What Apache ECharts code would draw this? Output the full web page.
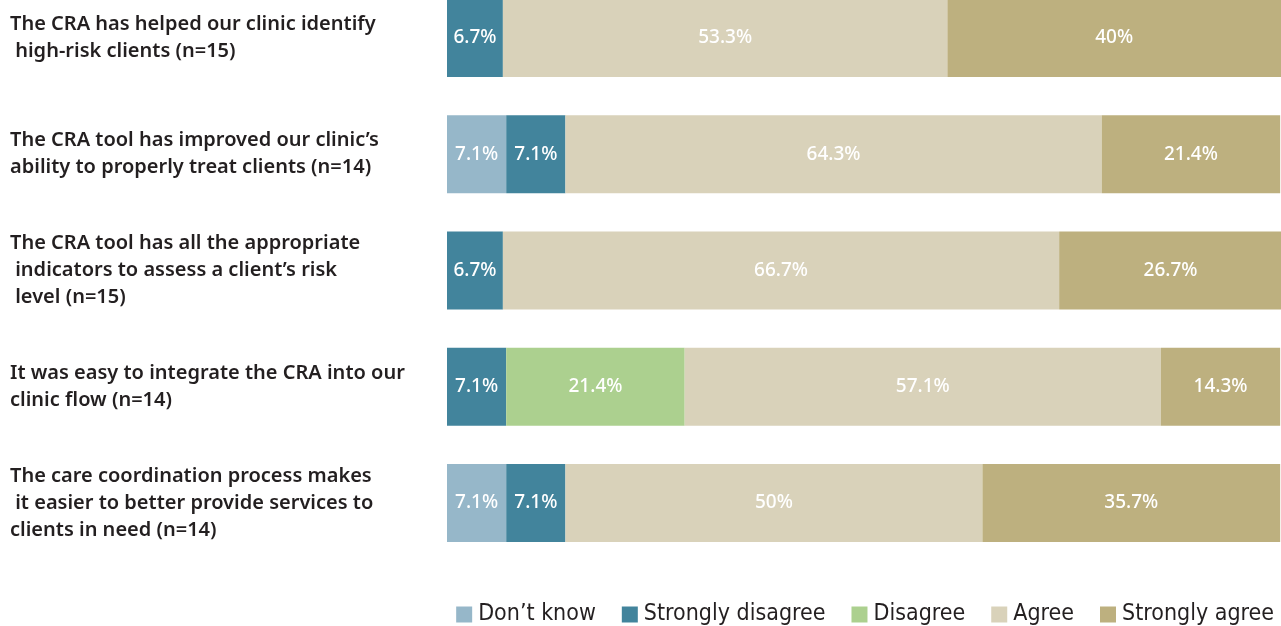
<!DOCTYPE html>
<html>
<head>
<meta charset="utf-8">
<script src="https://cdn.jsdelivr.net/npm/echarts@6/dist/echarts.min.js"></script>
<style>
  html, body { margin: 0; padding: 0; background: #fff; }
  #chart { width: 1281px; height: 626px; }
</style>
</head>
<body>
<div id="chart"></div>
<script>
// statements, top to bottom
var categories = [
  'The CRA has helped our clinic identify\n high-risk clients (n=15)',
  'The CRA tool has improved our clinic\u2019s\nability to properly treat clients (n=14)',
  'The CRA tool has all the appropriate\n indicators to assess a client\u2019s risk\n level (n=15)',
  'It was easy to integrate the CRA into our\nclinic flow (n=14)',
  'The care coordination process makes\n it easier to better provide services to\nclients in need (n=14)'
];
var seriesNames = ['Don\u2019t know', 'Strongly disagree', 'Disagree', 'Agree', 'Strongly agree'];
var dontKnow = [0, 7.1, 0, 0, 7.1];
var strongDisagree = [6.7, 7.1, 6.7, 7.1, 7.1];
var disagree = [0, 0, 0, 21.4, 0];
var agree = [53.3, 64.3, 66.7, 57.1, 50];
var strongAgree = [40, 21.4, 26.7, 14.3, 35.7];
var colors = ['#96b7c9', '#42849c', '#acd08f', '#d9d2ba', '#bdb07f'];

(function () {
  var chart = echarts.init(document.getElementById('chart'), null, { renderer: 'canvas' });
  var values = [dontKnow, strongDisagree, disagree, agree, strongAgree];

  var series = seriesNames.map(function (name, i) {
    return {
      name: name,
      type: 'bar',
      stack: 'total',
      barWidth: 78,
      clip: false,
      itemStyle: { color: colors[i] },
      label: {
        show: true,
        position: 'inside',
        color: '#fff',
        fontFamily: 'Noto Sans',
        fontWeight: 500,
        fontSize: 19,
        formatter: function (p) { return p.value > 0 ? p.value + '%' : ''; }
      },
      data: values[i]
    };
  });

  chart.setOption({
    animation: false,
    color: colors,
    legend: {
      data: seriesNames,
      right: 2,
      top: 598,
      itemWidth: 16,
      itemHeight: 16,
      itemGap: 26,
      icon: 'rect',
      textStyle: {
        color: '#231f20',
        fontSize: 23,
        fontFamily: '"Liberation Sans Narrow", "DejaVu Sans Condensed", "Roboto", sans-serif',
        padding: [0, 0, 0, 1]
      }
    },
    // category points sit on the bar centres (boundaryGap false)
    grid: { left: 447, right: 0, top: 38, bottom: 123 },
    xAxis: {
      type: 'value',
      min: 0,
      max: 100,
      show: false
    },
    yAxis: {
      type: 'category',
      inverse: true,
      boundaryGap: false,
      data: categories,
      axisLine: { show: false },
      axisTick: { show: false },
      axisLabel: {
        align: 'left',
        margin: 437,
        color: '#231f20',
        fontFamily: 'Noto Sans',
        fontWeight: 600,
        fontSize: 20,
        lineHeight: 27
      }
    },
    series: series
  });
})();
</script>
</body>
</html>
